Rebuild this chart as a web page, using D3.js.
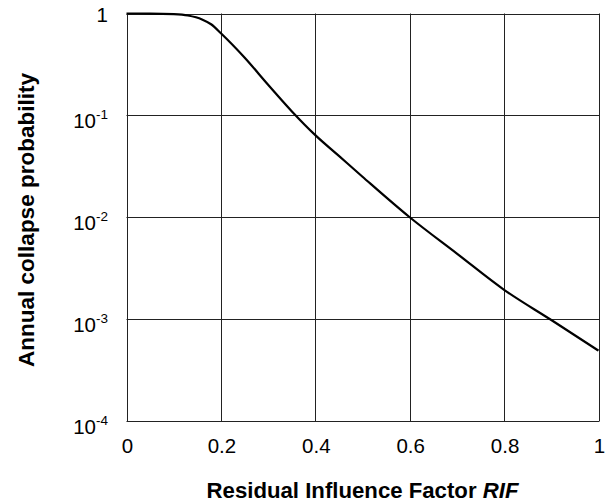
<!DOCTYPE html>
<html><head><meta charset="utf-8">
<script src="https://cdn.jsdelivr.net/npm/d3@7"></script>
<style>body{margin:0;background:#fff}svg{display:block}text{font-family:"Liberation Sans",Arial,Helvetica,sans-serif}</style>
</head><body><svg id="c" width="610" height="503"></svg>
<script>
const rif = [0, 0.05, 0.1, 0.13, 0.16, 0.18, 0.2, 0.25, 0.3, 0.35, 0.4, 0.45, 0.5, 0.6, 0.7, 0.8, 0.9, 1.0];
const prob = [1, 0.999, 0.985, 0.955, 0.875, 0.78, 0.64, 0.37, 0.2, 0.11, 0.064, 0.04, 0.025, 0.01, 0.0044, 0.00194, 0.00098, 0.00049];
const xTicks = [0, 0.2, 0.4, 0.6, 0.8, 1];
const xTickLabels = ["0", "0.2", "0.4", "0.6", "0.8", "1"];
const yTicks = [1, 1e-1, 1e-2, 1e-3, 1e-4];
const yExps = [null, "-1", "-2", "-3", "-4"];
const xTitle = "Residual Influence Factor ";
const xTitleItalic = "RIF";
const yTitle = "Annual collapse probability";

const svg = d3.select("#c");
const L = 126.5, R = 598.5, T = 13.5, B = 421;
const x = d3.scaleLinear().domain([0, 1]).range([L, R]);
const y = d3.scaleLog().domain([1e-4, 1]).range([B, T]);

// grid
const g = svg.append("g");
g.selectAll("line.v").data(xTicks).join("line")
  .attr("x1", d => Math.round(x(d)) + 0.5).attr("x2", d => Math.round(x(d)) + 0.5)
  .attr("y1", T).attr("y2", B).attr("stroke", "#222").attr("stroke-width", 1);
g.selectAll("line.h").data(yTicks).join("line")
  .attr("y1", d => Math.round(y(d)) + 0.5).attr("y2", d => Math.round(y(d)) + 0.5)
  .attr("x1", L).attr("x2", R + 1).attr("stroke", "#222").attr("stroke-width", 1);

// axes via d3
const xAxis = d3.axisBottom(x).tickValues(xTicks).tickSize(0).tickPadding(17)
  .tickFormat((d, i) => xTickLabels[i]);
const xa = svg.append("g").attr("transform", `translate(0.5,${B})`).call(xAxis);
xa.select(".domain").remove();
xa.selectAll("text").attr("font-size", 20.5).attr("fill", "#000")
  .style("font-family", '"Liberation Sans",Arial,sans-serif');

const yAxis = d3.axisLeft(y).tickValues(yTicks).tickSize(0).tickPadding(0).tickFormat(() => "");
const ya = svg.append("g").attr("transform", `translate(${L},0)`).call(yAxis);
ya.select(".domain").remove();
ya.selectAll(".tick").each(function(d, i) {
  const t = d3.select(this).select("text");
  t.attr("x", -18.5).attr("dy", null).attr("y", 0).attr("text-anchor", "end")
    .style("font-family", '"Liberation Sans",Arial,sans-serif').attr("fill", "#000");
  if (yExps[i] === null) {
    t.attr("font-size", 20.5).attr("y", 7.5);
    t.append("tspan").text("1");
  } else {
    t.attr("font-size", 20.5).attr("y", 12);
    t.append("tspan").text("10");
    t.append("tspan").attr("font-size", 13.5).attr("dy", -8.5).text(yExps[i]);
  }
});

// curve
const data = rif.map((r, i) => [r, prob[i]]);
svg.append("path").datum(data)
  .attr("d", d3.line().x(d => x(d[0])).y(d => y(d[1])).curve(d3.curveMonotoneX))
  .attr("fill", "none").attr("stroke", "#000").attr("stroke-width", 2.2)
  .attr("stroke-linejoin", "round");

// titles
const xt = svg.append("text").attr("x", 362.5).attr("y", 498)
  .attr("text-anchor", "middle").attr("font-size", 22.2).attr("font-weight", "bold");
xt.append("tspan").text(xTitle);
xt.append("tspan").attr("font-style", "italic").text(xTitleItalic);

svg.append("text").attr("transform", `translate(33.5,220) rotate(-90)`)
  .attr("text-anchor", "middle").attr("font-size", 22.5).attr("font-weight", "bold")
  .text(yTitle);
</script></body></html>
